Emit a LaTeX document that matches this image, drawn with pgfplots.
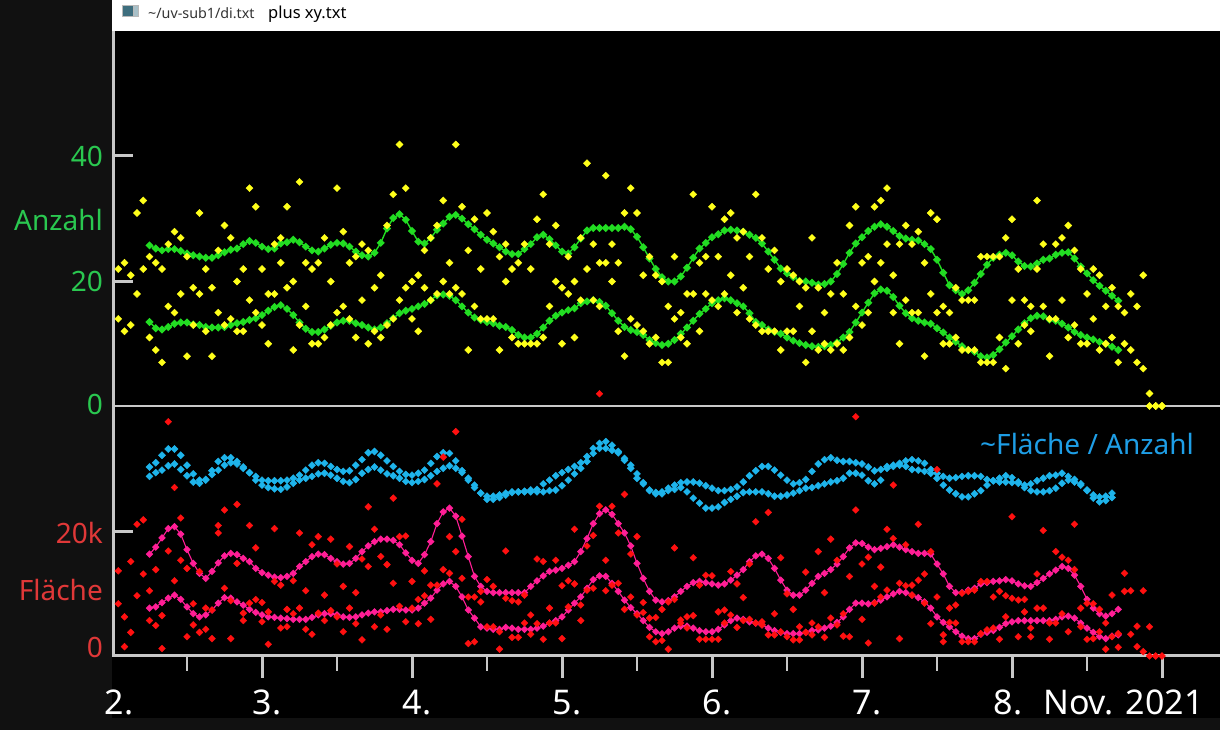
\documentclass[border=0pt]{standalone}
\usepackage{fontspec}
\setmainfont{Noto Sans}
\usepackage{pgfplots}
\usepackage{pgfplotstable}
\pgfplotsset{compat=1.18}
\definecolor{bgdark}{HTML}{111111}
\definecolor{axgray}{HTML}{C8C8C8}
\definecolor{grnline}{HTML}{22DD22}
\definecolor{grntext}{HTML}{2AC850}
\definecolor{yel}{HTML}{FFFF1A}
\definecolor{redpt}{HTML}{FF1010}
\definecolor{redtext}{HTML}{E03838}
\definecolor{pinkl}{HTML}{FF1E96}
\definecolor{bluep}{HTML}{1EB4EB}
\definecolor{bluetext}{HTML}{1E9EE6}
\definecolor{icondark}{HTML}{3E6E7E}
\definecolor{iconlight}{HTML}{A8C0C8}

% hourly values, h = hours after 2 Nov 00:00
\pgfplotstableread{
h ya yb ra rb
1 22 14 13.7 8.4
2 23 12 6.3 1.5
3 21 13 15.2 3.8
4 31 18 21.2 9.7
5 33 22 21.9 13.2
6 24 11 10.5 5.7
7 23 9 13.9 4.9
8 22 7 6.5 1.2
9 26 16 37.7 16.9
10 28 15 27.1 12.1
11 27 18 22.2 15.4
12 24 8 14.1 3.1
13 19 13 8.4 5.0
14 31 18 13.6 3.8
15 22 12 7.7 4.3
16 19 8 7.4 2.8
17 25 15 21.0 19.8
18 29 13 23.5 10.9
19 27 14 2.8 8.9
20 20 12 24.4 14.9
21 22 12 6.9 5.7
22 35 17 21.0 8.5
23 32 15 17.4 9.1
24 22 13 8.6 5.5
25 18 10 7.1 1.9
26 26 18 20.5 12.0
27 27 23 11.4 4.5
28 32 19 7.5 4.7
29 20 9 12.1 6.8
30 36 13 19.8 7.7
31 23 16 10.5 4.3
32 22 10 17.9 3.5
33 23 10 19.2 6.9
34 27 11 9.8 5.7
35 20 13 18.8 7.3
36 35 15 14.8 6.3
37 28 16 11.2 3.9
38 23 14 17.6 7.7
39 24 11 10.2 5.2
40 26 17 15.6 2.6
41 25 10 24.0 14.4
42 19 12 20.4 4.7
43 21 11 16.0 6.6
44 29 13 14.7 4.3
45 34 14 25.4 11.7
46 42 17 19.2 8.0
47 35 19 19.3 5.5
48 20 14 12.0 7.7
49 21 12 9.1 5.2
50 25 19 13.7 9.7
51 27 17 11.4 5.9
52 29 18 27.7 11.4
53 33 20 32.0 13.9
54 23 18 19.2 13.3
55 42 19 36.1 16.8
56 32 18 22.0 12.5
57 25 9 9.5 2.0
58 30 16 9.5 2.3
59 22 14 8.7 10.4
60 31 14 12.3 4.7
61 28 14 11.2 4.7
62 24 9 1.1 3.9
63 26 20 16.9 9.3
64 22 11 8.9 3.0
65 23 10 8.7 3.0
66 26 10 9.8 5.3
67 22 10 6.6 3.5
68 30 10 15.6 5.2
69 34 11 15.2 2.7
70 26 16 7.7 5.3
71 29 20 15.4 5.3
72 19 10 11.3 2.8
73 24 18 12.1 7.9
74 20 11 20.4 11.6
75 27 17 8.2 5.7
76 39 22 17.7 10.6
77 26 17 19.4 10.9
78 23 16 42.2 24.1
79 37 23 15.4 10.5
80 26 20 24.1 11.4
81 23 12 19.8 11.7
82 31 8 26.0 7.5
83 35 14 16.4 9.5
84 31 13 19.2 6.6
85 21 12 8.6 7.0
86 24 10 6.1 3.1
87 21 11 2.3 6.2
88 20 7 7.5 2.5
89 16 7 1.1 8.7
90 24 14 17.4 9.1
91 15 11 5.8 5.3
92 18 10 4.5 6.3
93 34 18 15.8 6.5
94 23 12 2.7 11.4
95 24 18 13.0 2.7
96 32 17 12.9 2.7
97 24 16 7.1 2.7
98 30 18 7.4 5.3
99 31 21 13.6 6.6
100 15 27 11.6 4.6
101 19 28 9.4 5.7
102 24 14 14.8 5.9
103 34 13 21.6 5.3
104 27 12 5.5 5.0
105 22 12 23.1 3.4
106 25 12 6.8 3.4
107 20 9 15.8 3.9
108 22 12 10.0 3.1
109 21 12 7.5 2.6
110 16 20 4.7 2.6
111 19 7 13.5 3.8
112 27 12 3.4 5.3
113 19 9 16.8 4.7
114 15 10 10.2 3.0
115 18 9 18.8 6.1
116 23 10 15.4 5.0
117 18 9 3.2 6.8
118 29 11 12.8 3.1
119 32 16 38.5 23.5
120 23 13 14.8 5.9
121 24 15 15.9 2.1
122 32 20 11.2 8.5
123 33 23 14.3 9.5
124 35 26 20.4 10.6
125 21 15 27.5 18.9
126 26 10 11.7 2.8
127 29 17 17.9 11.3
128 26 15 11.4 9.8
129 28 15 21.2 12.2
130 23 8 13.2 8.5
131 31 18 16.8 5.2
132 30 15 30.0 9.5
133 16 10 3.4 2.3
134 15 10 7.7 5.4
135 19 11 8.2 5.3
136 17 9 2.3 10.1
137 17 9 2.3 10.4
138 17 9 2.3 10.6
139 24 7 12.0 3.6
140 24 7 12.0 4.2
141 24 7 4.5 9.5
142 24 11 10.4 2.7
143 27 6 9.7 6.3
144 30 17 22.4 9.3
145 22 10 9.0 3.1
146 17 13 9.1 7.1
147 16 12 4.5 3.1
148 33 22 13.2 7.7
149 26 16 20.2 7.7
150 8 14 2.7 5.3
151 26 14 16.8 5.3
152 27 17 15.9 6.8
153 29 11 15.4 3.9
154 25 13 21.2 13.9
155 22 10 7.7 4.7
156 18 10 8.5 2.7
157 22 14 8.4 2.8
158 21 9 7.5 3.9
159 16 10 1.1 5.3
160 19 11 9.8 3.1
161 16 7 1.4 3.6
162 15 10 13.3 10.4
163 18 9 10.5 3.5
164 16 7 4.8 1.5
165 21 6 10.5 0.7
166 2 0 4.7 0
167 0 0 0 0
168 0 0 0 0
}\scatterdata

\pgfplotstableread{
h gu gl pu pl bu bl
6 25.8 13.5 16.4 7.7 30.4 28.9
7 25.3 12.5 17.5 7.9 31.1 29.5
8 25.0 12.3 19.0 8.6 32.3 29.9
9 25.2 12.7 20.5 9.3 33.3 30.6
10 25.2 13.2 20.8 9.8 33.3 30.9
11 24.9 13.4 19.6 9.1 32.3 30.0
12 24.5 13.4 17.1 7.9 30.7 29.0
13 24.2 13.1 14.9 6.8 29.3 28.0
14 24.0 13.0 13.3 6.3 28.3 27.8
15 23.8 12.7 12.5 6.6 28.4 28.3
16 23.8 12.6 13.6 7.4 29.2 29.8
17 24.2 12.6 15.0 8.5 31.3 29.9
18 24.7 12.7 16.1 9.4 31.9 30.7
19 25.1 13.0 16.5 9.3 31.9 31.1
20 25.3 13.3 16.3 8.7 31.3 30.9
21 26.0 13.5 15.7 8.2 30.4 30.2
22 26.5 13.8 15.2 7.5 29.5 29.5
23 26.2 14.1 14.1 7.0 28.9 28.3
24 25.6 14.6 13.4 6.6 28.3 27.5
25 25.2 15.3 13.0 6.3 28.2 27.1
26 25.3 15.9 12.7 6.2 28.2 26.9
27 26.1 16.2 12.6 6.1 28.2 26.8
28 26.3 15.6 12.8 6.0 28.3 27.2
29 26.7 14.6 13.3 5.9 28.6 27.8
30 26.3 13.4 14.4 5.9 29.1 28.3
31 25.6 12.4 15.2 5.9 29.9 28.6
32 25.0 11.9 16.0 6.2 30.7 28.9
33 24.8 11.9 16.4 6.6 31.1 29.3
34 25.3 12.3 16.3 6.8 31.0 29.4
35 25.9 12.9 15.7 6.8 30.5 29.1
36 26.2 13.4 15.2 6.6 30.0 28.6
37 26.1 13.7 14.8 6.3 29.7 28.1
38 25.6 13.7 14.9 6.2 29.8 27.9
39 24.8 13.3 15.7 6.3 30.7 28.4
40 24.2 13.0 16.8 6.6 31.6 29.4
41 24.0 12.6 17.7 6.9 32.7 30.0
42 24.6 12.3 18.4 7.1 32.9 30.4
43 26.2 12.6 18.8 7.1 32.3 29.9
44 28.5 13.3 18.8 7.3 31.4 29.3
45 30.2 14.1 18.6 7.5 30.5 29.0
46 30.8 14.9 17.9 7.5 29.7 28.6
47 29.9 15.3 16.6 7.4 29.2 28.1
48 28.1 15.6 15.4 7.4 29.1 27.9
49 26.4 16.0 14.9 7.7 29.4 28.1
50 26.1 16.4 16.3 8.5 29.9 28.4
51 27.0 17.0 18.4 9.3 31.0 29.0
52 28.3 17.8 21.3 10.6 32.1 29.7
53 29.3 17.9 23.2 11.6 32.7 30.2
54 30.4 17.7 23.8 12.0 32.6 30.6
55 30.7 17.0 22.5 11.2 31.4 30.2
56 30.1 16.0 19.3 9.5 29.8 29.5
57 29.2 15.0 16.0 7.4 28.3 28.6
58 28.4 14.2 12.8 6.1 27.5 27.1
59 27.5 13.8 11.2 4.7 26.2 26.2
60 26.7 13.5 10.4 4.5 25.7 25.2
61 26.1 13.3 10.2 4.3 25.7 25.2
62 25.5 12.9 10.2 4.3 25.9 25.5
63 24.8 12.7 10.2 4.6 26.2 25.9
64 24.4 12.2 10.2 4.5 26.4 26.3
65 24.4 11.4 10.2 4.3 26.4 26.4
66 25.2 11.0 10.2 4.3 26.5 26.4
67 26.0 11.0 11.2 4.3 26.7 26.4
68 27.1 11.6 12.1 4.5 26.8 26.4
69 27.5 12.6 12.9 4.8 27.7 26.4
70 26.8 13.7 13.6 5.3 28.3 26.6
71 25.8 14.5 13.8 5.7 29.0 26.7
72 24.8 15.0 14.1 6.3 29.5 27.4
73 24.5 15.4 14.6 7.4 30.0 28.3
74 25.5 15.7 15.2 8.5 30.5 29.3
75 26.9 16.5 16.8 9.5 31.1 30.2
76 28.2 16.8 18.9 10.9 32.1 31.3
77 28.6 17.0 21.3 12.3 33.4 32.6
78 28.6 16.7 22.9 12.9 34.2 33.4
79 28.6 16.1 23.5 12.8 34.5 33.4
80 28.6 14.9 22.8 11.7 33.9 33.1
81 28.6 13.7 21.3 10.4 32.9 32.7
82 28.8 12.7 19.8 9.0 31.8 31.5
83 28.4 12.2 17.7 7.8 30.7 30.2
84 27.2 11.9 14.9 6.8 29.3 28.6
85 25.5 11.4 12.5 5.7 27.9 27.7
86 23.7 10.6 10.4 4.6 26.7 26.6
87 22.0 10.1 9.0 3.9 26.3 26.1
88 20.7 9.8 8.7 3.6 26.4 26.1
89 20.0 10.0 8.9 3.9 27.0 26.6
90 20.0 10.6 9.5 4.5 27.5 26.8
91 20.8 11.6 10.4 4.8 27.9 27.1
92 22.2 12.6 11.2 4.8 28.0 26.4
93 23.8 13.7 11.8 4.5 28.0 25.4
94 25.3 14.8 12.0 4.1 27.8 24.6
95 26.2 15.6 11.8 3.9 27.4 23.8
96 27.1 16.5 11.6 3.9 27.0 23.8
97 27.6 17.0 11.4 4.3 26.6 24.0
98 28.2 17.3 11.6 5.0 26.6 24.7
99 28.3 17.0 12.2 5.7 26.8 25.2
100 28.2 16.5 13.0 6.1 27.2 25.7
101 28.0 16.0 13.9 5.9 28.0 26.3
102 27.5 14.9 15.2 5.5 29.0 26.4
103 27.0 13.5 16.1 5.3 29.8 26.4
104 26.1 13.0 16.4 5.0 30.5 26.4
105 24.8 12.3 15.7 4.5 30.5 26.1
106 23.5 11.9 14.1 4.1 29.9 25.7
107 22.1 11.6 12.2 3.8 29.1 25.7
108 21.3 11.0 10.6 3.6 28.3 25.9
109 20.7 10.5 9.8 3.6 27.7 26.2
110 20.1 10.1 9.8 3.6 27.9 26.6
111 20.0 9.8 10.6 3.8 28.4 27.0
112 19.8 9.6 11.7 4.1 29.7 27.1
113 19.5 9.5 12.8 4.2 30.9 27.4
114 19.6 9.6 13.3 4.5 31.6 27.7
115 20.0 9.8 13.9 4.8 31.9 28.0
116 21.2 10.2 14.8 5.4 31.5 28.2
117 22.8 11.0 16.0 6.3 31.3 28.6
118 24.6 11.9 17.4 7.5 31.3 29.4
119 26.1 13.4 18.2 8.5 31.1 29.4
120 27.1 15.0 18.1 8.5 30.9 29.1
121 28.1 16.6 17.5 8.4 30.4 28.2
122 28.8 18.1 17.1 8.6 29.8 27.7
123 29.2 18.7 17.3 9.0 30.0 28.3
124 28.8 18.5 17.6 9.5 30.5 30.2
125 28.1 17.5 17.9 10.0 30.7 30.5
126 27.3 16.1 17.5 10.4 31.0 30.7
127 26.9 14.9 17.1 10.2 31.4 30.5
128 26.7 14.1 16.8 9.8 31.6 30.0
129 26.6 13.7 16.5 9.4 31.4 29.9
130 26.0 13.4 16.5 8.7 31.0 29.7
131 25.2 13.2 16.4 7.7 30.0 29.4
132 23.5 12.5 14.8 6.3 29.4 28.6
133 21.4 11.8 13.2 5.4 28.9 27.5
134 19.4 11.0 11.2 4.7 28.6 26.7
135 18.6 10.3 10.2 3.9 28.7 26.1
136 18.0 9.6 10.2 3.2 28.9 25.6
137 18.6 9.0 10.6 2.8 29.0 25.6
138 19.8 8.7 10.9 2.8 29.0 26.1
139 21.2 8.0 11.6 3.5 28.9 26.6
140 22.7 7.8 11.8 3.8 28.4 27.5
141 23.8 8.2 12.0 4.1 28.2 28.2
142 24.3 9.1 12.1 4.6 28.6 28.0
143 24.6 10.2 12.3 5.2 29.0 28.0
144 24.2 11.2 12.1 5.5 28.7 27.9
145 23.2 12.3 11.6 5.7 28.0 27.8
146 22.5 13.3 11.3 5.7 27.5 27.1
147 22.4 14.1 11.2 5.7 27.7 26.6
148 22.9 14.5 11.8 5.7 28.2 26.4
149 23.5 14.4 12.5 5.7 28.6 26.4
150 23.7 13.9 13.2 5.7 29.0 26.6
151 24.3 13.7 13.8 5.9 29.1 27.0
152 24.6 13.2 14.4 6.3 29.4 27.8
153 24.7 12.6 14.1 6.4 28.9 28.3
154 23.7 11.9 13.0 6.1 28.4 28.0
155 22.4 11.4 11.2 5.3 27.7 27.5
156 21.3 11.0 9.1 4.5 26.7 26.6
157 20.2 10.7 7.7 3.8 25.9 25.4
158 19.3 10.3 6.8 3.1 25.6 24.8
159 18.5 10.0 6.4 2.8 25.7 25.0
160 17.7 9.5 6.8 3.2 26.2 25.5
161 16.9 9.0 7.5 3.4 nan nan
}\linedata

\begin{document}
\begin{tikzpicture}[x=1pt,y=1pt]
\path[use as bounding box] (0,0) rectangle (1220,730);
\fill[bgdark] (0,0) rectangle (1220,730);
\fill[black] (112,12) rectangle (1220,699);
\fill[white] (112,699) rectangle (1220,730);
% window icon
\fill[gray!55] (122,713) rectangle (139,725);
\fill[icondark] (123,714) rectangle (133,724);
\fill[iconlight] (134,714) rectangle (138,724);
\node[anchor=base west, inner sep=0, text=black!80] at (148,711.5) {\fontsize{14.3}{17}\selectfont \textasciitilde/uv-sub1/di.txt};
\node[anchor=base west, inner sep=0, text=black] at (268,711) {\fontsize{16.5}{20}\selectfont plus xy.txt};
% axis frame
\draw[axgray, line width=3pt] (113.5,699) -- (113.5,72.5);
\draw[axgray, line width=3pt] (112,74) -- (1220,74);
\draw[axgray, line width=2pt] (112,324) -- (1220,324);
\foreach \yy in {574,448,198} \draw[axgray, line width=3pt] (113,\yy) -- (133,\yy);
\foreach \xx in {262,412,...,1162} \draw[axgray, line width=3pt] (\xx,74) -- (\xx,52);
\foreach \xx in {187,337,...,1087} \draw[axgray, line width=1.2pt] (\xx,74) -- (\xx,59);
% x labels
\foreach \xx/\lab in {119/2.,267/3.,417/4.,567/5.,717/6.,867/7.,1008/8.}
  \node[anchor=base, inner sep=0, text=white] at (\xx,15) {\fontsize{34}{40}\selectfont \lab};
\node[anchor=base west, inner sep=0, text=white] at (1043,15) {\fontsize{34}{40}\selectfont Nov. 2021};
% y labels
\node[anchor=east, inner sep=0, text=grntext] at (103,574) {\fontsize{28}{32}\selectfont 40};
\node[anchor=east, inner sep=0, text=grntext] at (103,510) {\fontsize{28}{32}\selectfont Anzahl};
\node[anchor=east, inner sep=0, text=grntext] at (103,449) {\fontsize{28}{32}\selectfont 20};
\node[anchor=east, inner sep=0, text=grntext] at (103,326) {\fontsize{28}{32}\selectfont 0};
\node[anchor=east, inner sep=0, text=redtext] at (103,197) {\fontsize{28}{32}\selectfont 20k};
\node[anchor=east, inner sep=0, text=redtext] at (103,140) {\fontsize{28}{32}\selectfont Fläche};
\node[anchor=east, inner sep=0, text=redtext] at (103,83) {\fontsize{28}{32}\selectfont 0};
\node[anchor=base west, inner sep=0, text=bluetext] at (980,275) {\fontsize{28}{32}\selectfont \textasciitilde{}Fläche / Anzahl};

% lower panel: Fläche (thousands) and ratio
\begin{axis}[at={(112pt,74pt)}, anchor=south west, scale only axis,
  width=1108pt, height=625pt, xmin=0, xmax=177.28, ymin=0, ymax=100.56,
  hide axis, clip=false]
\addplot[pinkl, line width=1.1pt, mark=square*, mark size=2.1pt,
  mark options={solid, rotate=45, fill=pinkl}] table[x=h, y=pu] {\linedata};
\addplot[pinkl, line width=1.1pt, mark=square*, mark size=2.1pt,
  mark options={solid, rotate=45, fill=pinkl}] table[x=h, y=pl] {\linedata};
\addplot[only marks, bluep, mark=square*, mark size=2.5pt,
  mark options={rotate=45, fill=bluep}] table[x=h, y=bu] {\linedata};
\addplot[only marks, bluep, mark=square*, mark size=2.5pt,
  mark options={rotate=45, fill=bluep}] table[x=h, y=bl] {\linedata};
\addplot[only marks, redpt, mark=square*, mark size=2.4pt,
  mark options={rotate=45, fill=redpt}] table[x=h, y=ra] {\scatterdata};
\addplot[only marks, redpt, mark=square*, mark size=2.4pt,
  mark options={rotate=45, fill=redpt}] table[x=h, y=rb] {\scatterdata};
\end{axis}

% upper panel: Anzahl
\begin{axis}[at={(112pt,74pt)}, anchor=south west, scale only axis,
  width=1108pt, height=625pt, xmin=0, xmax=177.28, ymin=-40.16, ymax=60.24,
  hide axis, clip=false]
\addplot[grnline, line width=1.4pt, mark=square*, mark size=2.2pt,
  mark options={solid, rotate=45, fill=grnline}] table[x=h, y=gu] {\linedata};
\addplot[grnline, line width=1.4pt, mark=square*, mark size=2.2pt,
  mark options={solid, rotate=45, fill=grnline}] table[x=h, y=gl] {\linedata};
\addplot[only marks, yel, mark=square*, mark size=2.5pt,
  mark options={rotate=45, fill=yel}] table[x=h, y=ya] {\scatterdata};
\addplot[only marks, yel, mark=square*, mark size=2.5pt,
  mark options={rotate=45, fill=yel}] table[x=h, y=yb] {\scatterdata};
\end{axis}
\end{tikzpicture}
\end{document}
